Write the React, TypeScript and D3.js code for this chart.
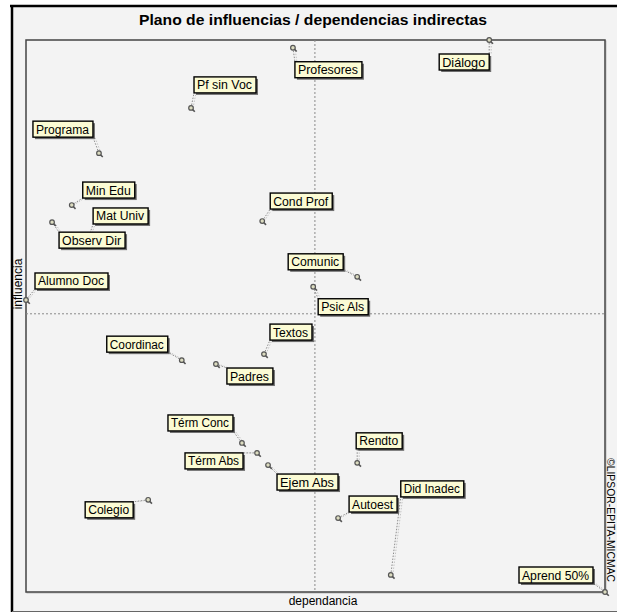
import React from "react";
import * as d3 from "d3";

// Variables (MICMAC indirect influence / dependence plane), values on a 0–100 scale of the axis range
const names = [
  "Diálogo", "Profesores", "Pf sin Voc", "Programa", "Min Edu", "Mat Univ", "Observ Dir",
  "Cond Prof", "Alumno Doc", "Comunic", "Psic Als", "Textos", "Coordinac", "Padres",
  "Térm Conc", "Térm Abs", "Ejem Abs", "Colegio", "Rendto", "Autoest", "Did Inadec", "Aprend 50%",
];
const dependence = [
  80.0, 46.1, 28.5, 12.6, 7.9, 10.9, 4.5,
  40.8, 0.0, 57.2, 49.6, 41.1, 26.9, 32.8,
  37.3, 39.9, 41.8, 21.1, 57.2, 53.9, 63.0, 100.0,
];
const influence = [
  100.0, 98.6, 87.7, 79.5, 70.1, 64.5, 67.0,
  67.2, 52.9, 57.1, 55.3, 43.1, 42.0, 41.3,
  27.0, 25.2, 23.0, 16.7, 23.4, 13.4, 3.1, 0.0,
];
const meanDependence = 49.9;
const meanInfluence = 50.4;

const title = "Plano de influencias / dependencias indirectas";
const xAxisLabel = "dependancia";
const yAxisLabel = "influencia";
const credit = "©LIPSOR-EPITA-MICMAC";

// label placement (layout only): offset of the label box from its point, and box width
const labelDx = [-50, 2, 3, -66, 11, 4, 7, 8, 9, -69, 5, 6, -75, 11, -74, -72, 9, -63, -1, 11, 10, -86];
const labelDy = [14, 14, -31, -32, -23, -28, 10, -28, -27, -23, 12, -30, -24, 4, -28, 0, 9, 2, -30, -22, -94, -25];
const labelW = [50, 67, 62, 60, 52, 55, 66, 62, 73, 55, 50, 42, 61, 46, 65, 58, 61, 48, 46, 48, 63, 74];

const W = 617;
const H = 613;
const plot = { left: 26, top: 40, right: 605, bottom: 592 };
const BOX_H = 16;
const FONT = "'Liberation Sans', Arial, sans-serif";

export default function App() {
  const x = d3.scaleLinear().domain([0, 100]).range([plot.left, plot.right]);
  const y = d3.scaleLinear().domain([0, 100]).range([plot.bottom, plot.top]);

  const items = names.map((name, i) => {
    const px = x(dependence[i]);
    const py = y(influence[i]);
    const bx = px + labelDx[i];
    const by = py + labelDy[i];
    const bw = labelW[i];
    const cx = Math.max(bx, Math.min(px, bx + bw));
    const cy = Math.max(by, Math.min(py, by + BOX_H));
    return { name, px, py, bx, by, bw, cx, cy };
  });

  const mx = x(meanDependence);
  const my = y(meanInfluence);

  return (
    <svg
      width={W}
      height={H}
      style={{ position: "absolute", left: 0, top: 0, display: "block" }}
      xmlns="http://www.w3.org/2000/svg"
    >
      <rect x={0} y={0} width={W} height={H} fill="#ffffff" />
      {/* outer panel */}
      <rect x={12} y={6} width={W - 12} height={605} fill="#f3f3f3" />
      <line x1={10} x2={W} y1={6} y2={6} stroke="#000" strokeWidth={2.5} />
      <line x1={12} x2={12} y1={5} y2={612} stroke="#000" strokeWidth={2.5} />
      <line x1={12} x2={W} y1={611.5} y2={611.5} stroke="#666" strokeWidth={1} />

      <text
        x={313}
        y={25}
        textAnchor="middle"
        fontFamily={FONT}
        fontSize={15}
        fontWeight="bold"
        textLength={348}
        lengthAdjust="spacingAndGlyphs"
        fill="#000"
      >
        {title}
      </text>

      {/* plot frame */}
      <rect
        x={plot.left + 1}
        y={plot.top + 1}
        width={plot.right - plot.left}
        height={plot.bottom - plot.top}
        fill="none"
        stroke="#bdbdbd"
        strokeWidth={1}
      />
      <rect
        x={plot.left}
        y={plot.top}
        width={plot.right - plot.left}
        height={plot.bottom - plot.top}
        fill="#f3f3f3"
        stroke="#444"
        strokeWidth={1.5}
      />

      {/* mean lines */}
      <line x1={mx} x2={mx} y1={plot.top} y2={plot.bottom} stroke="#8a8a8a" strokeWidth={1} strokeDasharray="2,2" />
      <line x1={plot.left} x2={plot.right} y1={my} y2={my} stroke="#8a8a8a" strokeWidth={1} strokeDasharray="2,2" />

      {/* leader lines */}
      {items.map((d, i) => (
        <g key={"l" + i}>
          <line x1={d.px} y1={d.py} x2={d.cx} y2={d.cy} stroke="#8c8c8c" strokeWidth={1} strokeDasharray="1.5,1.5" />
          <line x1={d.px + 2} y1={d.py} x2={d.cx + 2} y2={d.cy} stroke="#c4c4c4" strokeWidth={1} strokeDasharray="1.5,1.5" />
        </g>
      ))}

      {/* points */}
      {items.map((d, i) => (
        <g key={"p" + i}>
          <line x1={d.px + 1.2} y1={d.py + 1.2} x2={d.px + 3.8} y2={d.py + 3.8} stroke="#555" strokeWidth={1.6} />
          <circle cx={d.px} cy={d.py} r={2.3} fill="#dcdcc0" stroke="#555" strokeWidth={1.2} />
        </g>
      ))}

      {/* labels */}
      {items.map((d, i) => (
        <g key={"t" + i}>
          <rect x={d.bx + 2} y={d.by + 2} width={d.bw} height={BOX_H} fill="#6e6e6e" />
          <rect x={d.bx} y={d.by} width={d.bw} height={BOX_H} fill="#fbfbd4" stroke="#000" strokeWidth={1.4} />
          <text
            x={d.bx + 3}
            y={d.by + 12.5}
            fontFamily={FONT}
            fontSize={12}
            textLength={d.bw - 7}
            lengthAdjust="spacingAndGlyphs"
            fill="#000"
          >
            {d.name}
          </text>
        </g>
      ))}

      {/* axis titles */}
      <text x={323} y={605} textAnchor="middle" fontFamily={FONT} fontSize={12} fill="#000">
        {xAxisLabel}
      </text>
      <text
        transform={`translate(22,284) rotate(-90)`}
        textAnchor="middle"
        fontFamily={FONT}
        fontSize={12}
        fill="#000"
      >
        {yAxisLabel}
      </text>
      <text
        transform={`translate(607,520) rotate(90)`}
        textAnchor="middle"
        fontFamily={FONT}
        fontSize={10}
        textLength={124}
        lengthAdjust="spacingAndGlyphs"
        fill="#000"
      >
        {credit}
      </text>
    </svg>
  );
}
